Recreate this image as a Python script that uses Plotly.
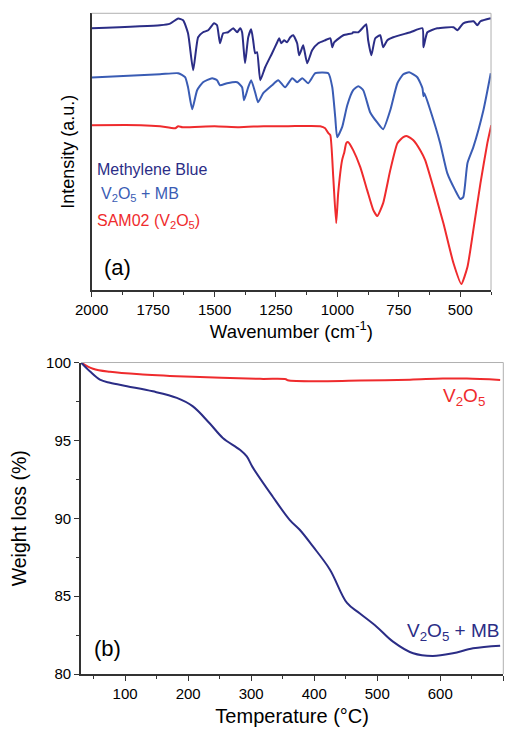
import plotly.graph_objects as go

# ---------------- FTIR data (panel a) ----------------
mb_wn = [2000, 1722, 1681, 1648, 1628, 1608, 1587, 1567, 1547, 1526, 1502, 1490, 1478, 1465,
         1445, 1424, 1408, 1396, 1388, 1376, 1363, 1351, 1343, 1335, 1327, 1314, 1294, 1266,
         1245, 1237, 1229, 1217, 1205, 1192, 1180, 1164, 1156, 1143, 1139, 1123, 1103, 1078,
         1050, 1029, 1021, 1013, 976, 940, 936, 915, 895, 883, 875, 862, 846, 826, 814, 797,
         773, 703, 654, 650, 634, 594, 528, 512, 488, 446, 431, 418, 376]
mb_int = [262, 265, 266.7, 271.7, 270, 257, 220, 253, 258, 260, 267, 265, 247, 257,
          258, 262, 258, 262, 258, 227, 253, 261, 250, 237, 238, 210, 223, 237,
          248, 252, 247, 250, 248, 253, 255, 247, 235, 243, 245, 227, 240, 247,
          250, 252, 243, 248, 255, 257, 258, 258, 263, 266, 250, 235, 252, 255, 243, 250,
          253, 258, 262, 243, 258, 262, 263, 260, 267, 269, 265, 269, 272]

vmb_wn = [2000, 1722, 1648, 1620, 1608, 1591, 1571, 1547, 1510, 1490, 1478, 1449, 1408, 1388,
          1380, 1363, 1351, 1335, 1323, 1302, 1266, 1241, 1213, 1184, 1164, 1143, 1119, 1090,
          1037, 1021, 1009, 1001, 981, 960, 936, 915, 895, 867, 839, 814, 785, 756, 732, 708,
          675, 654, 650, 646, 622, 582, 553, 521, 500, 488, 471, 447, 406, 376]
vmb_int = [212.7, 216, 217, 213, 203, 181, 200, 208, 212, 210, 205, 207, 208, 203,
           190, 203, 210, 198, 188, 197, 205, 210, 203, 212, 208, 212, 207, 217,
           217, 203, 173, 153, 163, 185, 200, 204, 200, 178, 168, 161, 180, 207, 216, 218,
           213, 202, 194, 197, 180, 147, 117, 100, 91, 93, 127, 143, 180, 217]

v2o5_wn = [2000, 1800, 1722, 1660, 1648, 1630, 1500, 1400, 1300, 1200, 1070, 1050, 1037, 1029,
           1017, 1005, 997, 981, 972, 964, 956, 936, 907, 879, 854, 838, 814, 785, 756, 732,
           716, 691, 663, 643, 610, 569, 528, 496, 471, 447, 418, 390, 374]
v2o5_int = [165, 165, 164, 162, 164, 163, 164, 163, 164, 164, 164, 162, 157, 155,
            113, 67, 97, 130, 138, 147, 148, 140, 123, 100, 80, 74, 87, 120, 147, 153,
            154, 150, 140, 130, 103, 67, 27, 6, 23, 60, 107, 147, 165]

# ---------------- TGA data (panel b) ----------------
tga_v2o5_T = [30, 49, 76, 128, 207, 314, 355, 358, 420, 473, 552, 604, 642, 695]
tga_v2o5_w = [100, 99.6, 99.4, 99.23, 99.08, 98.95, 98.93, 98.86, 98.8, 98.84, 98.9, 98.97, 98.97, 98.88]

tga_vmb_T = [30, 44, 60, 76, 103, 144, 182, 207, 234, 255, 282, 293, 302, 334, 361, 377,
             398, 425, 452, 472, 499, 525, 557, 588, 620, 652, 695]
tga_vmb_w = [100, 99.44, 98.9, 98.7, 98.48, 98.15, 97.73, 97.2, 96.1, 95.16, 94.4, 93.97, 93.3,
             91.4, 89.9, 89.26, 88.19, 86.7, 84.56, 83.9, 83.04, 82.08, 81.33, 81.16, 81.33,
             81.65, 81.82]

wn_ticks = [2000, 1750, 1500, 1250, 1000, 750, 500]
T_ticks = [100, 200, 300, 400, 500, 600, 700]
w_ticks = [80, 85, 90, 95, 100]

NAVY = "#2b2d86"
BLUE = "#3a5cb4"
RED = "#ef2b2d"
FONT = "Liberation Sans, Arial, sans-serif"

fig = go.Figure()
fig.add_trace(go.Scatter(x=mb_wn, y=mb_int, mode="lines", line=dict(color=NAVY, width=2, shape="spline", smoothing=0.5),
                         xaxis="x", yaxis="y", showlegend=False))
fig.add_trace(go.Scatter(x=vmb_wn, y=vmb_int, mode="lines", line=dict(color=BLUE, width=2, shape="spline", smoothing=0.5),
                         xaxis="x", yaxis="y", showlegend=False))
fig.add_trace(go.Scatter(x=v2o5_wn, y=v2o5_int, mode="lines", line=dict(color=RED, width=2, shape="spline", smoothing=0.5),
                         xaxis="x", yaxis="y", showlegend=False))
fig.add_trace(go.Scatter(x=tga_v2o5_T, y=tga_v2o5_w, mode="lines", line=dict(color=RED, width=2, shape="spline"),
                         xaxis="x2", yaxis="y2", showlegend=False))
fig.add_trace(go.Scatter(x=tga_vmb_T, y=tga_vmb_w, mode="lines", line=dict(color=NAVY, width=2, shape="spline"),
                         xaxis="x2", yaxis="y2", showlegend=False))

axcommon = dict(showline=True, linecolor="#333333", linewidth=1.8, showgrid=False, zeroline=False,
                tickfont=dict(size=15, color="black", family=FONT), automargin=False,
                ticks="outside", tickcolor="#333333", tickwidth=1.2)

fig.update_layout(
    width=514, height=730, margin=dict(l=0, r=0, t=0, b=0),
    paper_bgcolor="white", plot_bgcolor="white", template="none",
    font=dict(family=FONT, color="black"),
    xaxis=dict(axcommon, domain=[0.1784, 0.9553], anchor="y", range=[2000, 375],
               tickvals=wn_ticks, ticklen=5,
               minor=dict(ticks="outside", ticklen=3, dtick=125, tick0=0, tickcolor="#333333"),
               title=dict(text="Wavenumber (cm<sup>-1</sup>)", font=dict(size=18.5), standoff=4)),
    yaxis=dict(axcommon, domain=[0.6027, 0.9818], anchor="x", range=[0, 277],
               showticklabels=False, ticks="",
               title=dict(text="Intensity (a.u.)", font=dict(size=18), standoff=10)),
    xaxis2=dict(axcommon, domain=[0.1576, 0.9792], anchor="y2", range=[30, 700],
                tickvals=T_ticks, ticklen=5,
                minor=dict(ticks="outside", ticklen=3, dtick=50, tick0=0, tickcolor="#333333"),
                title=dict(text="Temperature (°C)", font=dict(size=20), standoff=8)),
    yaxis2=dict(axcommon, domain=[0.0767, 0.5034], anchor="x2", range=[80, 100],
                tickvals=w_ticks, ticklen=5,
                minor=dict(ticks="outside", ticklen=3, dtick=2.5, tick0=0, tickcolor="#333333"),
                title=dict(text="Weight loss (%)", font=dict(size=19.5), standoff=14)),
)

# grey top/right frame lines
for xr, yr in (("x domain", "y domain"), ("x2 domain", "y2 domain")):
    fig.add_shape(type="line", xref=xr, yref=yr, x0=0, x1=1, y0=1, y1=1, line=dict(color="#b0b0b0", width=1))
    fig.add_shape(type="line", xref=xr, yref=yr, x0=1, x1=1, y0=0, y1=1, line=dict(color="#b0b0b0", width=1))

def ann(text, x, y, xref, yref, color, size):
    fig.add_annotation(text=text, x=x, y=y, xref=xref, yref=yref, xanchor="left", yanchor="middle",
                       showarrow=False, font=dict(color=color, size=size, family=FONT))

ann("Methylene Blue", 0.009, 0.434, "x domain", "y domain", NAVY, 16)
ann("V<sub>2</sub>O<sub>5</sub> + MB", 0.019, 0.345, "x domain", "y domain", BLUE, 16)
ann("SAM02 (V<sub>2</sub>O<sub>5</sub>)", 0.009, 0.248, "x domain", "y domain", RED, 16)
ann("(a)", 0.026, 0.083, "x domain", "y domain", "black", 22)
ann("V<sub>2</sub>O<sub>5</sub>", 0.853, 0.89, "x2 domain", "y2 domain", RED, 19)
ann("V<sub>2</sub>O<sub>5</sub> + MB", 0.768, 0.135, "x2 domain", "y2 domain", NAVY, 19)
ann("(b)", 0.026, 0.083, "x2 domain", "y2 domain", "black", 22)

fig.write_html("out.html")
